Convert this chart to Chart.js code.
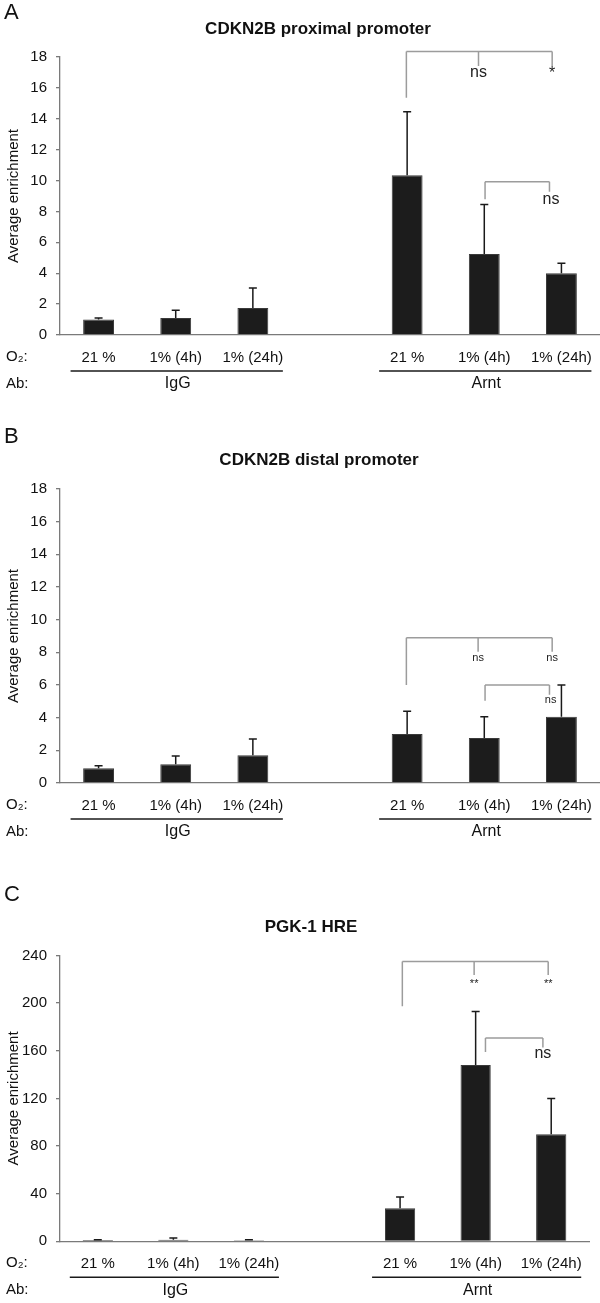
<!DOCTYPE html>
<html>
<head>
<meta charset="utf-8">
<script src="https://cdn.jsdelivr.net/npm/chart.js@4.4.1/dist/chart.umd.min.js"></script>
<style>
  body { margin: 0; background: #fff; width: 600px; height: 1303px; position: relative; overflow: hidden; }
  .panel { position: absolute; left: 0; width: 600px; }
</style>
</head>
<body>
<div class="panel" style="top:0px"><canvas id="chartA" width="600" height="400"></canvas></div>
<div class="panel" style="top:400px"><canvas id="chartB" width="600" height="450"></canvas></div>
<div class="panel" style="top:850px"><canvas id="chartC" width="600" height="453"></canvas></div>
<script>
// categories (the empty slot separates the two antibody groups)
const categories = ['21 %', '1% (4h)', '1% (24h)', '', '21 %', '1% (4h)', '1% (24h)'];
const antibodies = ['IgG', 'Arnt'];
const groupSpans = [[0, 2], [4, 6]];

const proximalMeans = [1.0, 1.1, 1.75, null, 10.35, 5.25, 4.0];
const proximalErrors = [0.1, 0.5, 1.3, null, 4.1, 3.2, 0.65];
const distalMeans = [0.9, 1.15, 1.7, null, 3.0, 2.75, 4.05];
const distalErrors = [0.15, 0.5, 1.0, null, 1.4, 1.3, 1.95];
const pgkMeans = [1.0, 1.2, 0.9, null, 27.7, 148, 90];
const pgkErrors = [0.3, 1.6, 0.3, null, 9.4, 45, 30];

const cdknTicks = [0, 2, 4, 6, 8, 10, 12, 14, 16, 18];
const pgkTicks = [0, 40, 80, 120, 160, 200, 240];

// significance brackets: legs [category, value], top value, marks [category, value, text]
const proximalBrackets = [
  { legs: [[3.99, 15.36], [4.925, 17.42], [5.88, 17.42]], top: 18.36,
    marks: [[4.925, 17.0, 'ns'], [5.88, 16.9, '*']], size: 16 },
  { legs: [[5.01, 8.79], [5.845, 9.28]], top: 9.92,
    marks: [[5.865, 8.75, 'ns']], size: 16 }
];
const distalBrackets = [
  { legs: [[3.99, 6.0], [4.92, 8.03], [5.88, 8.03]], top: 8.9,
    marks: [[4.92, 7.63, 'ns'], [5.88, 7.63, 'ns']], size: 11 },
  { legs: [[5.01, 5.04], [5.845, 5.4]], top: 6.0,
    marks: [[5.86, 5.06, 'ns']], size: 11 }
];
const pgkBrackets = [
  { legs: [[4.03, 197.3], [4.98, 223.7], [5.96, 223.7]], top: 235,
    marks: [[4.98, 216, '**'], [5.96, 216, '**']], size: 11 },
  { legs: [[5.13, 159], [5.89, 162.7]], top: 170.7,
    marks: [[5.89, 157.5, 'ns']], size: 16 }
];

const FONT = '"Liberation Sans", Arial, Helvetica, sans-serif';
Chart.defaults.font.family = FONT;
Chart.defaults.color = '#111';

const panelDecor = {
  id: 'panelDecor',
  afterDatasetsDraw(chart, args, opts) {
    const ctx = chart.ctx;
    const y = chart.scales.y;
    const values = chart.data.datasets[0].data;
    const meta = chart.getDatasetMeta(0);
    ctx.save();
    ctx.strokeStyle = '#1a1a1a';
    ctx.lineWidth = 1.5;
    meta.data.forEach((bar, i) => {
      const e = opts.errors[i];
      if (e == null || values[i] == null) return;
      const top = y.getPixelForValue(values[i] + e);
      ctx.beginPath();
      ctx.moveTo(bar.x, bar.y);
      ctx.lineTo(bar.x, top);
      ctx.moveTo(bar.x - 4, top);
      ctx.lineTo(bar.x + 4, top);
      ctx.stroke();
    });
    ctx.restore();
  },
  afterDraw(chart, args, opts) {
    const ctx = chart.ctx;
    const x = chart.scales.x, y = chart.scales.y;
    const b = chart.chartArea.bottom;
    ctx.save();

    // panel letter + title
    ctx.fillStyle = '#111';
    ctx.textBaseline = 'middle';
    ctx.textAlign = 'left';
    ctx.font = '22px ' + FONT;
    ctx.fillText(opts.letter, 4, opts.letterY);
    ctx.textAlign = 'center';
    ctx.font = 'bold 17px ' + FONT;
    ctx.fillText(opts.title, opts.titleX, opts.titleY);

    // brackets
    ctx.strokeStyle = '#9c9c9c';
    ctx.lineWidth = 1.5;
    opts.brackets.forEach(br => {
      const ty = y.getPixelForValue(br.top);
      const xs = br.legs.map(l => x.getPixelForValue(l[0]));
      ctx.beginPath();
      ctx.moveTo(xs[0], ty);
      ctx.lineTo(xs[xs.length - 1], ty);
      br.legs.forEach((l, k) => {
        ctx.moveTo(xs[k], ty);
        ctx.lineTo(xs[k], y.getPixelForValue(l[1]));
      });
      ctx.stroke();
      ctx.fillStyle = '#222';
      ctx.font = br.size + 'px ' + FONT;
      br.marks.forEach(m => {
        ctx.fillText(m[2], x.getPixelForValue(m[0]), y.getPixelForValue(m[1]));
      });
    });

    // O2 / Ab rows
    ctx.fillStyle = '#111';
    ctx.textAlign = 'left';
    ctx.font = '15px ' + FONT;
    ctx.fillText('O\u2082:', 6, b + 22);
    ctx.fillText('Ab:', 6, b + 49);
    ctx.strokeStyle = '#1a1a1a';
    ctx.lineWidth = 1.5;
    ctx.textAlign = 'center';
    ctx.font = '16px ' + FONT;
    groupSpans.forEach((g, k) => {
      const x0 = x.getPixelForValue(g[0]) - 28;
      const x1 = x.getPixelForValue(g[1]) + 30;
      ctx.beginPath();
      ctx.moveTo(x0, b + 36);
      ctx.lineTo(x1, b + 36);
      ctx.stroke();
      ctx.fillText(antibodies[k], x.getPixelForValue((g[0] + g[1]) / 2) + 2, b + 49);
    });
    ctx.restore();
  }
};

function makePanel(id, cfg) {
  return new Chart(document.getElementById(id), {
    type: 'bar',
    data: {
      labels: categories,
      datasets: [{
        data: cfg.values,
        backgroundColor: '#1c1c1c',
        borderColor: '#3a3a3a',
        borderWidth: 1,
        barPercentage: 0.4,
        categoryPercentage: 1
      }]
    },
    options: {
      responsive: false,
      animation: false,
      layout: { padding: { top: cfg.top, right: cfg.right, bottom: 0, left: 0 } },
      plugins: {
        legend: { display: false },
        tooltip: { enabled: false },
        panelDecor: {
          letter: cfg.letter, letterY: cfg.letterY,
          title: cfg.title, titleX: cfg.titleX, titleY: cfg.titleY,
          errors: cfg.errors, brackets: cfg.brackets
        }
      },
      scales: {
        x: {
          grid: { display: false },
          border: { display: true, color: '#7a7a7a', width: 1.3 },
          ticks: { autoSkip: false, maxRotation: 0, padding: 6, color: '#111', font: { size: 15 } },
          afterFit: s => { s.height = cfg.xHeight; }
        },
        y: {
          min: 0,
          max: cfg.ticks[cfg.ticks.length - 1],
          afterBuildTicks: s => { s.ticks = cfg.ticks.map(v => ({ value: v })); },
          grid: { display: true, drawOnChartArea: false, drawTicks: true, tickLength: 4, color: '#7a7a7a', lineWidth: 1.3 },
          border: { display: true, color: '#7a7a7a', width: 1.3 },
          ticks: { padding: 9, color: '#111', font: { size: 15 } },
          title: { display: true, text: 'Average enrichment', color: '#111', font: { size: 15 }, padding: { top: 4.5, bottom: 0 } },
          afterFit: s => { s.width = 60; }
        }
      }
    },
    plugins: [panelDecor]
  });
}

makePanel('chartA', {
  values: proximalMeans, errors: proximalErrors, brackets: proximalBrackets, ticks: cdknTicks,
  letter: 'A', letterY: 13, title: 'CDKN2B proximal promoter', titleX: 318, titleY: 29,
  top: 57, right: 0, xHeight: 65
});
makePanel('chartB', {
  values: distalMeans, errors: distalErrors, brackets: distalBrackets, ticks: cdknTicks,
  letter: 'B', letterY: 37, title: 'CDKN2B distal promoter', titleX: 319, titleY: 60,
  top: 89, right: 0, xHeight: 67
});
makePanel('chartC', {
  values: pgkMeans, errors: pgkErrors, brackets: pgkBrackets, ticks: pgkTicks,
  letter: 'C', letterY: 45, title: 'PGK-1 HRE', titleX: 311, titleY: 77,
  top: 105.5, right: 11, xHeight: 61.7
});
</script>
</body>
</html>
